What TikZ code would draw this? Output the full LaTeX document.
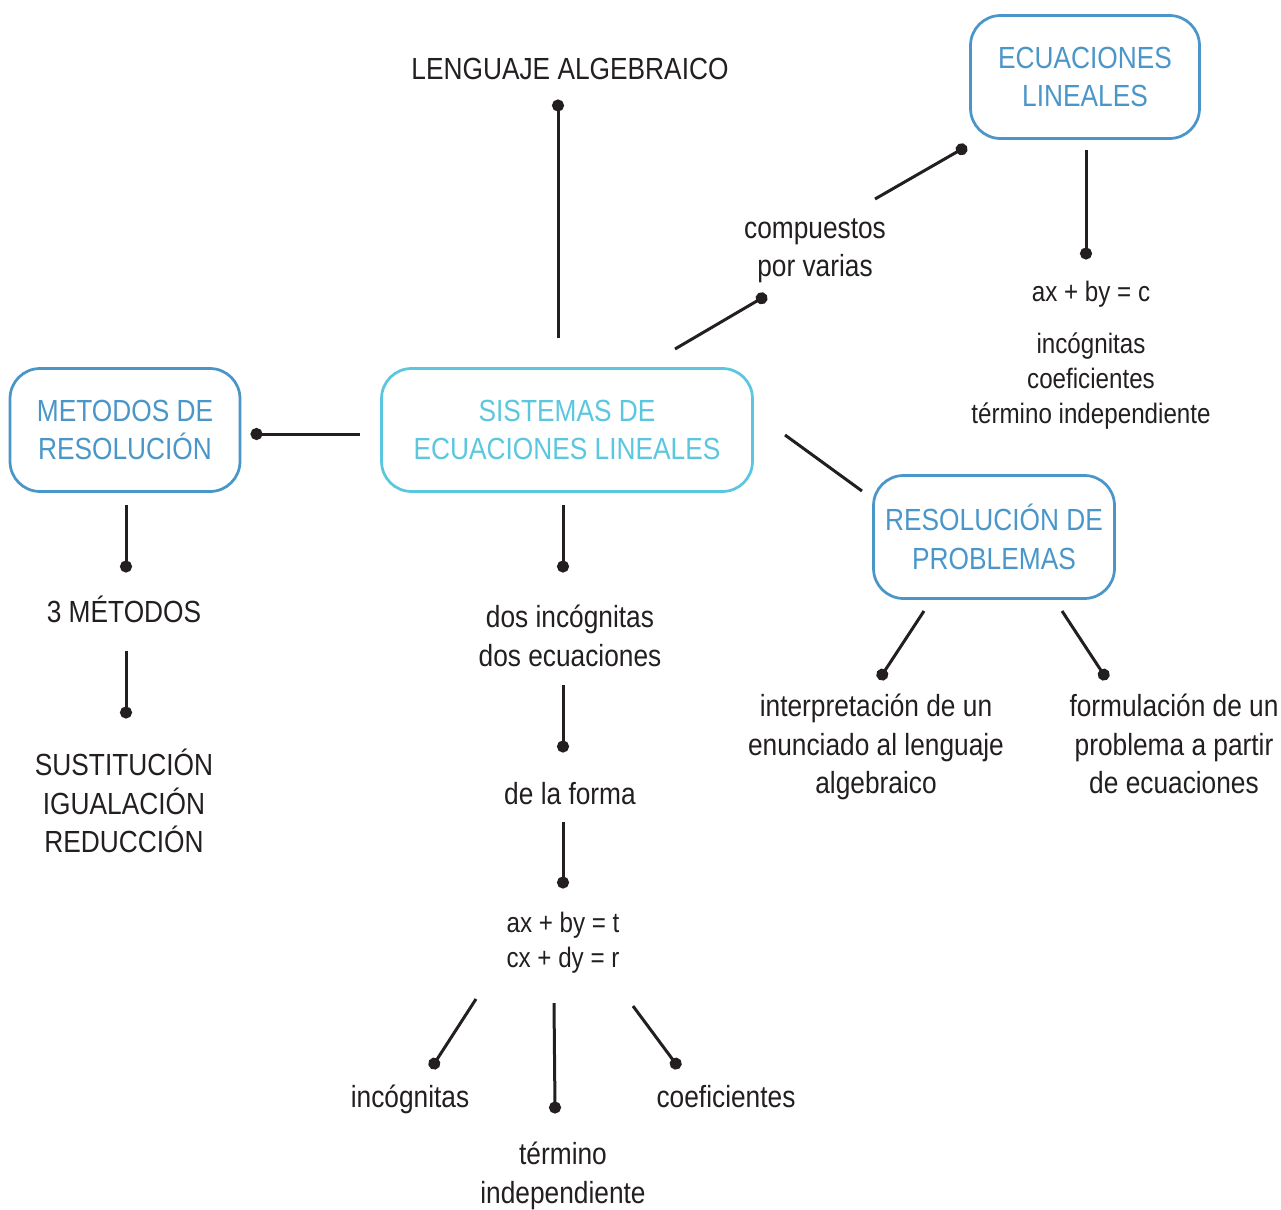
\documentclass[tikz,border=0pt]{standalone}
\usepackage{fontspec}
\setmainfont{Liberation Sans}[FakeStretch=0.86]
\usetikzlibrary{arrows.meta,calc,positioning}
\definecolor{ink}{HTML}{231F20}
\definecolor{cyanbox}{HTML}{5BC7DE}
\definecolor{bluebox}{HTML}{4A96C9}

\begin{document}
\begin{tikzpicture}
   [x=0.02cm, y=-0.02cm,
    every node/.style={font=\fontsize{17.4}{21.8}\selectfont, text=ink, align=center, inner sep=0pt},
    box/.style={draw=bluebox, text=bluebox, line width=0.055cm, rounded corners=0.6cm, minimum height=2.46cm},
    tight/.style={font=\fontsize{16}{19.8}\selectfont},
    link/.style={draw=ink, line width=0.06cm, -{Circle[length=0.24cm]}, shorten >=-0.11cm}]
   \useasboundingbox (0,0) rectangle (1281,1210);
   \node[box, draw=cyanbox, text=cyanbox, minimum width=7.42cm] (sis) at (567,430) {SISTEMAS DE\\ECUACIONES LINEALES};
   \node[box, minimum width=4.58cm] (ecu) at (1085,77) {ECUACIONES\\LINEALES};
   \node[box, minimum width=4.6cm] (met) at (125,430) {METODOS DE\\RESOLUCIÓN};
   \node[box, minimum width=4.82cm] (res) at (994,537) {RESOLUCIÓN DE\\PROBLEMAS};
   \node (leng) at (570,69) {LENGUAJE ALGEBRAICO};
   \node (comp) at (815,251) {compuestos\\por varias};
   \node[tight] (axc) at (1091,294) {ax + by = c};
   \node[tight, below=0.5cm of axc] (inco) {incógnitas\\coeficientes\\término independiente};
   \node (met3) at (124,609) {3 MÉTODOS};
   \node (sust) at (124,801) {SUSTITUCIÓN\\IGUALACIÓN\\REDUCCIÓN};
   \node (dos) at (570,636) {dos incógnitas\\dos ecuaciones};
   \node (forma) at (570,794) {de la forma};
   \node[tight] (sistf) at (563,943) {ax + by = t\\cx + dy = r};
   \node (incg) at (410,1099) {incógnitas};
   \node (term) at (563,1176) {término\\independiente};
   \node (coef) at (726,1097) {coeficientes};
   \node (interp) at (876,747) {interpretación de un\\enunciado al lenguaje\\algebraico};
   \node (formul) at (1174,744) {formulación de un\\problema a partir\\de ecuaciones};
   \coordinate (dleng) at (558,105);
   \coordinate (dcomp) at (762,298);
   \coordinate (decu) at (962,149);
   \coordinate (daxc) at (1086,254);
   \coordinate (dmet) at (256,434);
   \coordinate (dmet3) at (126,567);
   \coordinate (dsust) at (126,713);
   \coordinate (ddos) at (563,567);
   \coordinate (dforma) at (563,747);
   \coordinate (dsistf) at (563,883);
   \coordinate (dincg) at (434,1064);
   \coordinate (dterm) at (555,1108);
   \coordinate (dcoef) at (676,1064);
   \coordinate (dinterp) at (882,675);
   \coordinate (dformul) at (1104,675);
   \draw[link] ($(sis)+(-9,-92)$) -- (dleng);
   \draw[link] ($(sis)+(108,-81)$) -- (dcomp);
   \draw[link] ($(comp)+(60,-52)$) -- (decu);
   \draw[link] ($(ecu)+(1,73)$) -- (daxc);
   \draw[link] ($(sis)+(-207,4)$) -- (dmet);
   \draw[link] ($(met)+(1,75)$) -- (dmet3);
   \draw[link] ($(met3)+(2,42)$) -- (dsust);
   \draw[link] ($(sis)+(-4,75)$) -- (ddos);
   \draw[link] ($(dos)+(-7,49)$) -- (dforma);
   \draw[link] ($(forma)+(-7,28)$) -- (dsistf);
   \draw[link] ($(sistf)+(-87,56)$) -- (dincg);
   \draw[link] ($(sistf)+(-9,60)$) -- (dterm);
   \draw[link] ($(sistf)+(70,63)$) -- (dcoef);
   \draw[link, -, shorten >=0pt] ($(sis)+(218,5)$) -- ($(res)+(-132,-46)$);
   \draw[link] ($(res)+(-70,74)$) -- (dinterp);
   \draw[link] ($(res)+(68,74)$) -- (dformul);
\end{tikzpicture}
\end{document}
